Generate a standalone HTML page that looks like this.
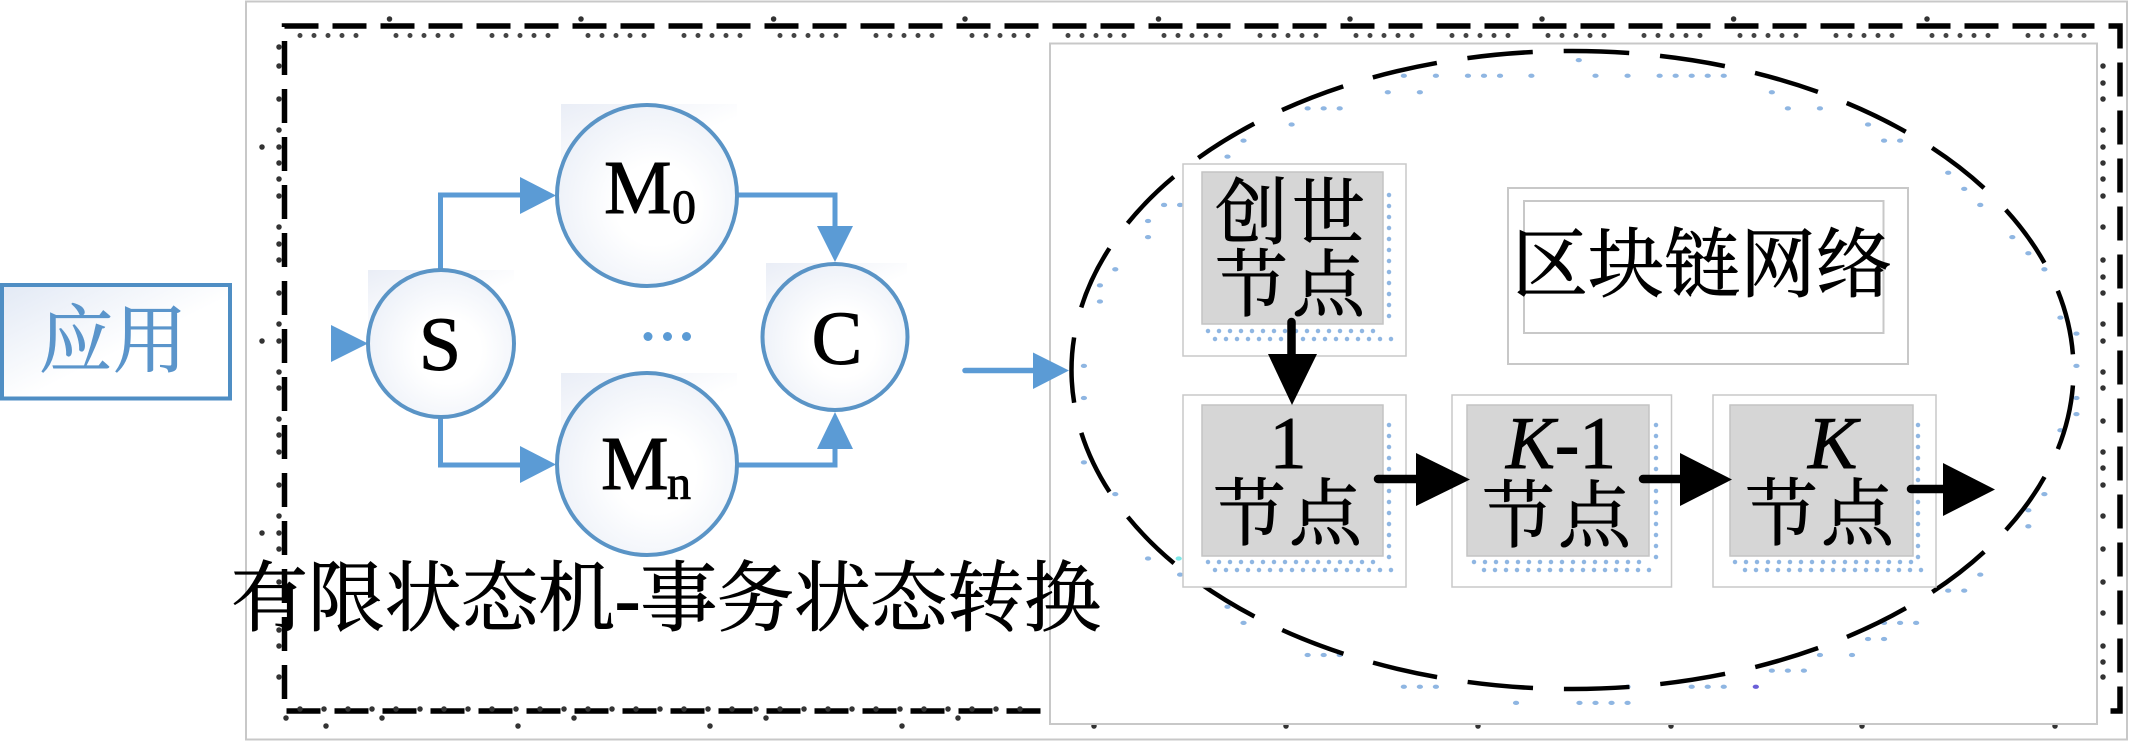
<!DOCTYPE html>
<html><head><meta charset="utf-8"><style>
html,body{margin:0;padding:0;background:#fff}
svg{display:block}
text{font-family:"Liberation Serif","Noto Serif CJK SC",serif;fill:#000;stroke:#000;stroke-width:.9}
</style></head><body>
<svg width="2133" height="742" viewBox="0 0 2133 742" xmlns="http://www.w3.org/2000/svg">
<defs>
<radialGradient id="c" cx=".55" cy=".55" r=".75"><stop offset=".3" stop-color="#fff"/><stop offset="1" stop-color="#e4eaf5"/></radialGradient>
<linearGradient id="sq" x1="0" y1="0" x2="1" y2="1"><stop offset="0" stop-color="#e4e9f4"/><stop offset=".6" stop-color="#fff"/></linearGradient>
<linearGradient id="bx" x1="0" y1="0" x2="1" y2="1"><stop offset="0" stop-color="#e2e9f5"/><stop offset=".55" stop-color="#fff"/></linearGradient>
</defs>
<rect x="246" y="1.500" width="1881" height="738" fill="#fff" stroke="#c8c8c8" stroke-width="2"/>
<rect x="284.500" y="26" width="1835.500" height="685" fill="none" stroke="#000" stroke-width="5.500" stroke-dasharray="34 14"/>
<g fill="none" stroke="#444" stroke-width="5" stroke-linecap="round" stroke-dasharray="0 14 0 14 0 14 0 14 0 40">
<path d="M300 35.500H2100"/>
</g>
<g fill="none" stroke="#333" stroke-width="5.500" stroke-linecap="round">
<path d="M389.500 19h0M581 19h0M773.600 19h0M965 19h0M1158.500 19h0M1350 19h0M1542 19h0M1733.600 19h0M1927 19h0"/>
<path d="M286 718h0M382 718h0M574 718h0M766 718h0M958 718h0M326 726h0M518 726h0M710 726h0M902 726h0M1094 726h0M1286 726h0M1478 726h0M1671 726h0M1862 726h0M2055 726h0"/>
<path d="M279 47h0M279 66h0M279 99h0M279 130h0M262 147h0M279 147h0M279 163h0M279 179h0M279 196h0M279 227h0M279 244h0M279 260h0M279 293h0M279 324h0M262 341h0M279 341h0M279 372h0M279 388h0M279 419h0M279 435h0M279 452h0M279 485h0M279 516h0M262 533h0M279 533h0M279 549h0M279 582h0M279 630h0M279 646h0M279 677h0"/>
<path d="M2103 66h0M2103 83h0M2103 99h0M2103 130h0M2103 147h0M2103 163h0M2103 179h0M2103 196h0M2103 227h0M2103 260h0M2103 277h0M2103 293h0M2103 324h0M2103 341h0M2103 372h0M2103 388h0M2103 421h0M2103 452h0M2103 468h0M2103 485h0M2103 516h0M2103 549h0M2103 582h0M2103 613h0M2103 646h0M2103 662h0M2103 677h0"/>
<path d="M300 709H1040" stroke-dasharray="0 24"/>
</g>
<rect x="1050" y="43.500" width="1047" height="680.500" fill="#fff" stroke="#c8c8c8" stroke-width="2"/>

<!-- blue dots -->
<g transform="translate(1040,0) scale(.697,.4733)" fill="none" stroke="#8fb6e2" stroke-width="9" stroke-linecap="round">
<path d="M773 127h0M522 160h0M568 160h0M614 160h0M637 160h0M660 160h0M705 160h0M797 160h0M843 160h0M889 160h0M912 160h0M935 160h0M958 160h0M981 160h0M499 195h0M545 195h0M1050 195h0M384 229h0M407 229h0M430 229h0M1073 229h0M1119 229h0M361 263h0M1188 263h0M292 297h0M1211 297h0M1234 297h0M269 331h0M1303 365h0M1326 399h0M178 433h0M201 433h0M1349 433h0M155 467h0M155 501h0M1395 501h0M1418 535h0M108 569h0M1441 569h0M86 603h0M86 637h0M1464 671h0M1487 705h0M63 773h0M1487 773h0M63 841h0M1487 841h0M1487 875h0M1464 909h0M63 977h0M108 1044h0M1441 1044h0M1418 1078h0M1418 1112h0M155 1180h0M1349 1214h0M201 1214h0M1303 1248h0M1326 1248h0M269 1282h0M292 1316h0M1211 1316h0M1234 1316h0M1257 1316h0M1188 1350h0M1211 1350h0M384 1384h0M407 1384h0M430 1384h0M1119 1384h0M1165 1384h0M1050 1417h0M1073 1417h0M1096 1417h0M522 1451h0M545 1451h0M568 1451h0M843 1451h0M935 1451h0M958 1451h0M981 1451h0M683 1485h0M774 1485h0M797 1485h0M820 1485h0M843 1485h0"/>
<path stroke="#6a5fd8" d="M1027 1451h0"/>
<path stroke="#7ee8e8" d="M199 1180h0"/>
</g>

<!-- dashed ellipse -->
<ellipse cx="1572.500" cy="370" rx="501" ry="319" fill="none" stroke="#000" stroke-width="4.500" pathLength="27" stroke-dasharray=".68 .32" stroke-dashoffset="-.16"/>

<!-- application box -->
<rect x="2" y="285" width="228" height="113.500" fill="url(#bx)" stroke="#4f8ec4" stroke-width="4"/>
<text x="113" y="366" font-size="74" text-anchor="middle" style="fill:#5b95cb;stroke:#5b95cb">应用</text>

<!-- lavender squares -->
<rect x="368" y="270" width="146" height="60" fill="url(#sq)" opacity=".8"/>
<rect x="561" y="104" width="176" height="70" fill="url(#sq)" opacity=".8"/>
<rect x="561" y="373" width="176" height="70" fill="url(#sq)" opacity=".8"/>
<rect x="766" y="263" width="141" height="60" fill="url(#sq)" opacity=".8"/>

<!-- connectors -->
<g fill="none" stroke="#5b9bd5" stroke-width="5">
<path d="M440.500 270V195H525"/>
<path d="M440.500 417V465H525"/>
<path d="M737 195H835V230"/>
<path d="M737 465H835V445"/>
<path d="M965 370.500H1036" stroke-linecap="round" stroke-width="5.500"/>
</g>
<g fill="#5b9bd5">
<path d="M520 177L556 195.500 520 214Z"/>
<path d="M520 446L556 464.500 520 483Z"/>
<path d="M817 226H853L835 262Z"/>
<path d="M817 449H853L835 412Z"/>
<path d="M331 325L368 343.500 331 362Z"/>
<path d="M1033 352.500L1069 370.500 1033 389Z"/>
<circle cx="648" cy="336.500" r="4.500"/><circle cx="667.500" cy="336.500" r="4.500"/><circle cx="686.500" cy="336.500" r="4.500"/>
</g>

<!-- circles -->
<g fill="url(#c)" stroke="#5a94c6" stroke-width="4">
<ellipse cx="441" cy="343.500" rx="73" ry="73.500"/>
<ellipse cx="647" cy="195.500" rx="90" ry="90.500"/>
<ellipse cx="647" cy="464" rx="90" ry="91"/>
<ellipse cx="835" cy="337" rx="72.500" ry="73"/>
</g>
<text x="440" y="370" font-size="76" text-anchor="middle">S</text>
<text x="837" y="364" font-size="76" text-anchor="middle">C</text>
<text x="604" y="213" font-size="76">M</text>
<text x="672" y="223" font-size="48">0</text>
<text x="601" y="489" font-size="76">M</text>
<text x="667" y="499" font-size="48">n</text>

<text x="231" y="625" font-size="77" textLength="870" lengthAdjust="spacing">有限状态机-事务状态转换</text>

<!-- blockchain label -->
<rect x="1508" y="188" width="400" height="176" fill="#fff" stroke="#c8c8c8" stroke-width="2"/>
<rect x="1524" y="201" width="359.500" height="132" fill="#fff" stroke="#c8c8c8" stroke-width="2"/>
<text x="1512" y="291" font-size="76" textLength="380" lengthAdjust="spacing">区块链网络</text>

<!-- node boxes -->
<g fill="#fff" stroke="#c8c8c8" stroke-width="1.500">
<rect x="1183" y="164" width="223" height="192"/>
<rect x="1183" y="395" width="223" height="192"/>
<rect x="1452" y="395" width="219.500" height="192"/>
<rect x="1713" y="395" width="223" height="192"/>
</g>
<g fill="#d6d6d6" stroke="#c4c4c4" stroke-width="1.500">
<rect x="1202" y="172" width="181" height="152"/>
<rect x="1202" y="405" width="181" height="151"/>
<rect x="1467" y="405" width="182" height="151"/>
<rect x="1730" y="405" width="183" height="151"/>
</g>
<g fill="none" stroke="#8fb6e2" stroke-width="4.500" stroke-linecap="round" stroke-dasharray="0 11">
<path d="M1208 331H1382M1215 339H1392M1389 195V325"/>
<path d="M1208 562H1382M1215 570H1392M1389 425V560"/>
<path d="M1474 562H1648M1484 570H1660M1656 425V560"/>
<path d="M1735 562H1912M1745 570H1922M1918 425V560"/>
</g>
<g font-size="73">
<text x="1215" y="238">创</text><text x="1292" y="238">世</text>
<text x="1215" y="310">节</text><text x="1292" y="310">点</text>
<text x="1213" y="539">节</text><text x="1289" y="539">点</text>
<text x="1482" y="541">节</text><text x="1558" y="541">点</text>
<text x="1745" y="539">节</text><text x="1821" y="539">点</text>
</g>
<text x="1288" y="468" font-size="74" text-anchor="middle">1</text>
<text x="1506" y="468" font-size="74" textLength="110" lengthAdjust="spacingAndGlyphs"><tspan font-style="italic">K</tspan>-1</text>
<text x="1808" y="468" font-size="74" font-style="italic">K</text>

<!-- black arrows -->
<g fill="none" stroke="#000" stroke-width="8.500" stroke-linecap="round">
<path d="M1291.500 322V358"/>
<path d="M1378 479H1420"/>
<path d="M1643 479H1684"/>
<path d="M1911 489H1947"/>
</g>
<path d="M1268 354H1317L1292 405Z"/>
<path d="M1416 453L1470 479.500 1416 506Z"/>
<path d="M1680 453L1732 479.500 1680 506Z"/>
<path d="M1943 463L1995 489.500 1943 516Z"/>
</svg>
</body></html>
